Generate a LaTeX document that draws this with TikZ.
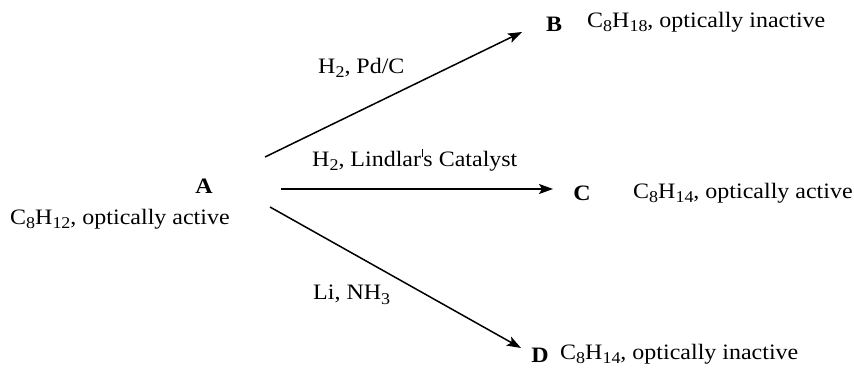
\documentclass[tikz,border=0pt]{standalone}
\usepackage{fontspec}
\setmainfont{Liberation Serif}[FakeStretch=1.09]
\usetikzlibrary{arrows.meta}
\newcommand{\csub}[1]{\raisebox{-0.45ex}{\fontsize{16.5}{18}\selectfont #1}}
\newcommand{\upq}{\hspace{0.6pt}\rule[0.95ex]{1pt}{0.75ex}\hspace{0.8pt}}
\tikzset{
  txt/.style={inner sep=0pt, font=\fontsize{22}{24}\selectfont},
  lbl/.style={inner sep=0pt, font=\fontsize{22}{24}\selectfont\bfseries},
  rxn/.style={line width=1.5pt, -{Stealth[length=14pt, width=10pt, inset=3pt]}},
}
\begin{document}
\begin{tikzpicture}[x=1pt, y=-1pt]
\useasboundingbox (0,0) rectangle (854,367);
% labels
\node[lbl] (A) at (204,186) {A};
\node[txt, anchor=west] (At) at (10,219) {C\csub{8}H\csub{12}, optically active};
\node[lbl] (B) at (554,24) {B};
\node[txt, anchor=west] (Bt) at (587,22) {C\csub{8}H\csub{18}, optically inactive};
\node[lbl] (C) at (582,193) {C};
\node[txt, anchor=west] (Ct) at (633,193) {C\csub{8}H\csub{14}, optically active};
\node[lbl] (D) at (540,355) {D};
\node[txt, anchor=west] (Dt) at (560,354) {C\csub{8}H\csub{14}, optically inactive};
% arrow endpoints
\coordinate (a1) at (265,157);
\coordinate (b1) at (522,32);
\coordinate (a2) at (281,189);
\coordinate (c1) at (553,189);
\coordinate (a3) at (270,207);
\coordinate (d1) at (521,348);
\draw[rxn] (a1) -- (b1);
\draw[rxn] (a2) -- (c1);
\draw[rxn] (a3) -- (d1);
% reagents
\node[txt, anchor=west] (r1) at (318,68) {H\csub{2}, Pd/C};
\node[txt, anchor=west] (r2) at (312,160) {H\csub{2}, Lindlar\upq s Catalyst};
\node[txt, anchor=west] (r3) at (313,295) {Li, NH\csub{3}};
\end{tikzpicture}
\end{document}
